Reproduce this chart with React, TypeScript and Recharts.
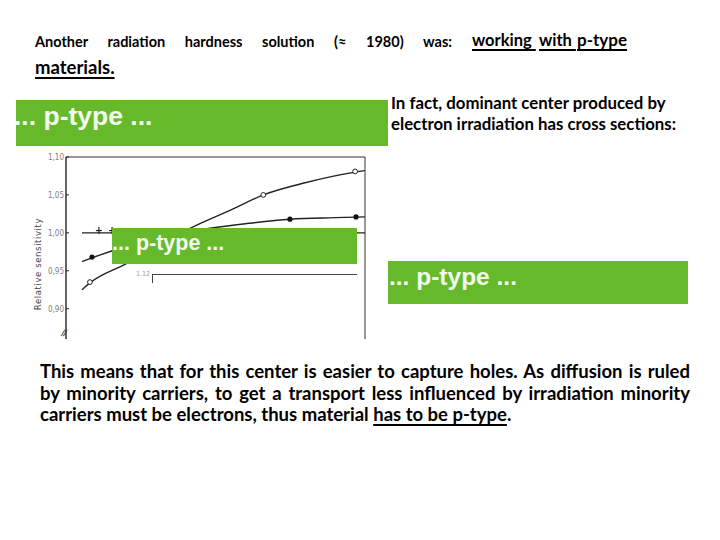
import React from 'react';
import { ComposedChart, Line, Scatter, XAxis, YAxis, ReferenceLine, Label } from 'recharts';

// ---------- data ----------
const Y_TICKS = [0.9, 0.95, 1.0, 1.05, 1.1];
const Y_DOMAIN = [0.86, 1.1];
const X_DOMAIN = [0, 100];

// fitted curve, open-circle series
const fitOpen = [
  { x: 5.35, v: 0.925 },
  { x: 8, v: 0.934 },
  { x: 20, v: 0.959 },
  { x: 30, v: 0.981 },
  { x: 41.5, v: 1.006 },
  { x: 55, v: 1.03 },
  { x: 66, v: 1.05 },
  { x: 80, v: 1.066 },
  { x: 96.7, v: 1.08 },
  { x: 100, v: 1.082 },
];
// fitted curve, filled-dot series
const fitFilled = [
  { x: 5.35, v: 0.962 },
  { x: 8.7, v: 0.967 },
  { x: 20, v: 0.982 },
  { x: 35, v: 0.997 },
  { x: 48.2, v: 1.006 },
  { x: 60, v: 1.012 },
  { x: 74.9, v: 1.018 },
  { x: 90, v: 1.02 },
  { x: 100, v: 1.021 },
];
const ptsOpen = [
  { x: 8, v: 0.935 },
  { x: 66, v: 1.05 },
  { x: 96.7, v: 1.081 },
];
const ptsFilled = [
  { x: 8.7, v: 0.968 },
  { x: 74.9, v: 1.018 },
  { x: 97, v: 1.021 },
];
const ptsPlus = [
  { x: 11, v: 1.003 },
  { x: 15.4, v: 1.003 },
];
const REF_START = 5.35;

const TITLE_1 = 'Another radiation hardness solution (\u2248 1980) was:';
const TITLE_U = ['working', 'with', 'p-type'];
const TITLE_2 = 'materials.';
const RIGHT_LINES = ['In fact, dominant center produced by', 'electron irradiation has cross sections:'];
const BOTTOM_LINES = [
  'This means that for this center is easier to capture holes. As diffusion is ruled',
  'by minority carriers, to get a transport less influenced by irradiation minority',
];
const BOTTOM_LAST = ['carriers must be electrons, thus material ', 'has to be p-type', '.'];
const BOX_TEXT = '... p-type ...';
const Y_LABEL = 'Relative sensitivity';
const PANEL2_TICK = '1.12';

// ---------- helpers ----------
const LATO = "Lato, 'Open Sans', sans-serif";
const ARIAL = "'Liberation Sans', Arial, sans-serif";
const GREEN = '#67b92c';

function T({ x, base, size, width, justify, font = LATO, asc = 0.987, desc = 0.213, color = '#000', weight = 700, underline, children }: any) {
  const lh = size * (asc + desc);
  return (
    <div
      style={{
        position: 'absolute',
        left: x,
        top: base - asc * size,
        width: width,
        fontFamily: font,
        fontSize: size,
        fontWeight: weight,
        lineHeight: `${lh}px`,
        whiteSpace: 'nowrap',
        color,
        textAlign: justify ? 'justify' : 'left',
        textAlignLast: justify ? 'justify' : 'auto',
        textDecoration: underline ? 'underline' : 'none',
        textUnderlineOffset: underline ? '3px' : undefined,
        textDecorationThickness: underline ? '1.5px' : undefined,
      } as any}
    >
      {children}
    </div>
  );
}

function GreenBox({ left, top, width, height, tx, base, size }: any) {
  return (
    <>
      <div style={{ position: 'absolute', left, top, width, height, background: GREEN }} />
      <T x={tx} base={base} size={size} font={ARIAL} asc={0.905} desc={0.212} color="#f3faee">
        {BOX_TEXT}
      </T>
    </>
  );
}

const OpenDot = (p: any) => (
  <circle cx={p.cx} cy={p.cy} r={2.4} fill="#fff" stroke="#222" strokeWidth={1} />
);
const FilledDot = (p: any) => <circle cx={p.cx} cy={p.cy} r={2.6} fill="#111" />;
const PlusMark = (p: any) => (
  <g stroke="#222" strokeWidth={1.2}>
    <line x1={p.cx - 3} x2={p.cx + 3} y1={p.cy} y2={p.cy} />
    <line x1={p.cx} x2={p.cx} y1={p.cy - 3.5} y2={p.cy + 3.5} />
  </g>
);

const fmt = (v: number) => v.toFixed(2).replace('.', ',');

function ScanChart() {
  return (
    <ComposedChart width={360} height={195} margin={{ top: 7, right: 11, bottom: 6, left: 0 }}>
      <XAxis type="number" dataKey="x" domain={X_DOMAIN} hide allowDataOverflow />
      <YAxis
        type="number"
        dataKey="v"
        domain={Y_DOMAIN}
        ticks={Y_TICKS}
        width={50}
        allowDataOverflow
        tickFormatter={fmt}
        tickSize={-3}
        tickMargin={5}
        tick={{ fontSize: 8, fill: '#808080', fontFamily: "'DejaVu Sans Condensed', sans-serif" }}
        axisLine={{ stroke: '#222', strokeWidth: 1.4 }}
        tickLine={{ stroke: '#222', strokeWidth: 1 }}
      >
        <Label
          content={() => (
            <text
              x={25}
              y={114}
              transform="rotate(-90, 25, 114)"
              textAnchor="middle"
              fontSize={8.5}
              letterSpacing={0.6}
              fill="#444"
              fontFamily="'DejaVu Sans', sans-serif"
            >
              {Y_LABEL}
            </text>
          )}
        />
      </YAxis>
      <ReferenceLine y={1.1} stroke="#333" strokeWidth={1} />
      <ReferenceLine x={100} stroke="#333" strokeWidth={1} />
      <ReferenceLine
        segment={[
          { x: REF_START, y: 1.0 },
          { x: 100, y: 1.0 },
        ]}
        stroke="#222"
        strokeWidth={1.3}
      />
      <Line data={fitOpen} dataKey="v" type="monotone" dot={false} stroke="#222" strokeWidth={1.4} isAnimationActive={false} />
      <Line data={fitFilled} dataKey="v" type="monotone" dot={false} stroke="#222" strokeWidth={1.4} isAnimationActive={false} />
      <Scatter data={ptsOpen} dataKey="v" shape={OpenDot} isAnimationActive={false} />
      <Scatter data={ptsFilled} dataKey="v" shape={FilledDot} isAnimationActive={false} />
      <Scatter data={ptsPlus} dataKey="v" shape={PlusMark} isAnimationActive={false} />
    </ComposedChart>
  );
}

export default function App() {
  return (
    <div style={{ position: 'absolute', left: 0, top: 0, width: 720, height: 540, background: '#fff', overflow: 'hidden' }}>
      {/* title */}
      <T x={35} base={47} size={14.5} width={417} justify>
        {TITLE_1}
      </T>
      <T x={472} base={47} size={16.5} underline>{TITLE_U[0] + '\u00a0'}</T>
      <T x={539} base={47} size={16.5} underline>{TITLE_U[1] + '\u00a0'}</T>
      <T x={577} base={47} size={17} underline>{TITLE_U[2]}</T>
      <T x={35} base={74} size={18.5} underline>{TITLE_2}</T>

      {/* scanned chart */}
      <div style={{ position: 'absolute', left: 16, top: 150 }}>
        <ScanChart />
      </div>
      <div style={{ position: 'absolute', left: 61, top: 327, fontSize: 9, fontWeight: 700, color: '#333', fontFamily: LATO, transform: 'rotate(10deg)' }}>//</div>
      {/* fragment of second panel */}
      <div style={{ position: 'absolute', left: 152, top: 274, width: 204, height: 8, borderTop: '1.5px solid #444', borderLeft: '1.5px solid #444' }} />
      <div style={{ position: 'absolute', left: 136, top: 270, fontSize: 7, color: '#999', fontFamily: "'DejaVu Sans Condensed', sans-serif" }}>{PANEL2_TICK}</div>

      {/* green boxes */}
      <GreenBox left={16} top={100} width={372} height={46} tx={14} base={126} size={26.5} />
      <GreenBox left={112} top={228} width={245} height={36} tx={112} base={250} size={21.5} />
      <GreenBox left={388} top={261} width={300} height={43} tx={389} base={285} size={24.5} />

      {/* right text */}
      <T x={391} base={110} size={16.8}>{RIGHT_LINES[0]}</T>
      <T x={391} base={131} size={16.8}>{RIGHT_LINES[1]}</T>

      {/* bottom paragraph */}
      <T x={40} base={378.5} size={18.5} width={650} justify>{BOTTOM_LINES[0]}</T>
      <T x={40} base={400} size={18.5} width={650} justify>{BOTTOM_LINES[1]}</T>
      <T x={40} base={421.5} size={18.5}>
        {BOTTOM_LAST[0]}
        <span style={{ textDecoration: 'underline', textUnderlineOffset: '3px', textDecorationThickness: '1.5px' } as any}>{BOTTOM_LAST[1]}</span>
        {BOTTOM_LAST[2]}
      </T>
    </div>
  );
}
